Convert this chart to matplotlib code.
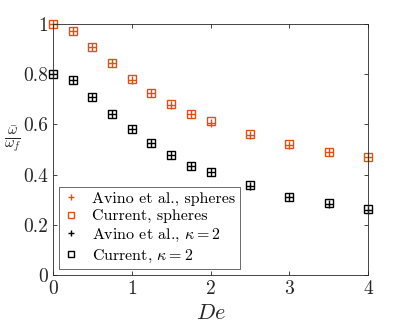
import matplotlib
matplotlib.use("Agg")
import matplotlib.pyplot as plt

plt.rcParams['font.family'] = ['cmr10', 'DejaVu Serif']
plt.rcParams['mathtext.fontset'] = 'cm'
plt.rcParams['axes.formatter.use_mathtext'] = True

de = [0, 0.25, 0.5, 0.75, 1, 1.25, 1.5, 1.75, 2, 2.5, 3, 3.5, 4]
avino_spheres = [1.0, 0.972, 0.908, 0.845, 0.778, 0.725, 0.677, 0.640, 0.604, 0.558, 0.518, 0.490, 0.470]
current_spheres = [1.0, 0.972, 0.908, 0.845, 0.781, 0.725, 0.680, 0.641, 0.612, 0.560, 0.522, 0.492, 0.472]
avino_k2 = [0.800, 0.777, 0.709, 0.641, 0.582, 0.526, 0.478, 0.434, 0.410, 0.355, 0.312, 0.283, 0.259]
current_k2 = [0.800, 0.777, 0.709, 0.641, 0.582, 0.526, 0.478, 0.434, 0.410, 0.357, 0.312, 0.285, 0.262]

orange = '#D95319'

fig = plt.figure(figsize=(4.07, 3.29), dpi=100)
ax = fig.add_axes([53/407, 1 - 275/329, (368-53)/407, (275-24)/329])

ms = 6
ax.plot(de, avino_spheres, '+', color=orange, ms=ms, mew=1.0, ls='none', label='Avino et al., spheres', clip_on=False)
ax.plot(de, current_spheres, 's', mfc='none', mec=orange, ms=ms, mew=1.0, ls='none', label='Current, spheres', clip_on=False)
ax.plot(de, avino_k2, '+', color='black', ms=ms, mew=1.0, ls='none', label=r'Avino et al., $\kappa=2$', clip_on=False)
ax.plot(de, current_k2, 's', mfc='none', mec='black', ms=ms, mew=1.0, ls='none', label=r'Current, $\kappa=2$', clip_on=False)

ax.set_xlim(0, 4)
ax.set_ylim(0, 1)
ax.set_xticks([0, 1, 2, 3, 4])
ax.set_yticks([0, 0.2, 0.4, 0.6, 0.8, 1])
ax.set_yticklabels(['0', '0.2', '0.4', '0.6', '0.8', '1'])
ax.set_xticklabels(['0', '1', '2', '3', '4'])
ax.tick_params(direction='in', top=True, right=True, length=3, width=0.6, colors='#262626', labelsize=14, labelcolor='#262626')
for s in ax.spines.values():
    s.set_color('#262626')
    s.set_linewidth(0.6)

ax.set_xlabel(r'$De$', fontsize=16, color='#262626')
ax.set_ylabel(r'$\frac{\bar{\omega}}{\omega_f}$', fontsize=15, rotation=0, va='center', ha='center', color='#262626')
ax.yaxis.set_label_coords(-0.13, 0.54)

leg = ax.legend(loc='lower left', fontsize=11.5, frameon=True, fancybox=False, edgecolor='#262626',
                handlelength=1.0, handletextpad=0.8, borderpad=0.3, labelspacing=0.22, borderaxespad=0.35,
                markerscale=0.8)
leg.get_frame().set_linewidth(0.6)

fig.savefig('out.png', dpi=100)
